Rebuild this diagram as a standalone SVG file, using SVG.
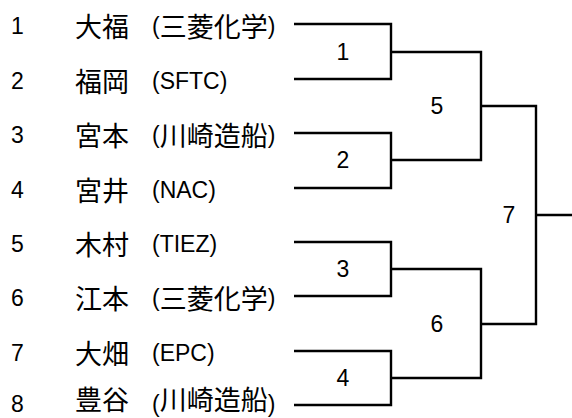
<svg xmlns="http://www.w3.org/2000/svg" width="572" height="418" viewBox="0 0 572 418">
<style>
text{font-family:"Liberation Sans","Noto Sans CJK JP",sans-serif;font-size:23px;fill:#000}
.cjk{font-family:"Noto Sans CJK JP","Liberation Sans",sans-serif;font-size:27px}
.lbl{text-anchor:middle}
.br{fill:none;stroke:#000;stroke-width:2.4}
</style>
<rect width="572" height="418" fill="#fff"/>
<g id="p1"><text x="11" y="34">1</text><text class="cjk" x="75" y="37">大福</text><text x="152" y="34">(<tspan class="cjk" dy="2.5">三菱化学</tspan><tspan dy="-2.5">)</tspan></text></g>
<g id="p2"><text x="11" y="89">2</text><text class="cjk" x="75" y="92">福岡</text><text x="152" y="89">(SFTC)</text></g>
<g id="p3"><text x="11" y="143">3</text><text class="cjk" x="75" y="146">宮本</text><text x="152" y="143">(<tspan class="cjk" dy="2.5">川崎造船</tspan><tspan dy="-2.5">)</tspan></text></g>
<g id="p4"><text x="11" y="198">4</text><text class="cjk" x="75" y="201">宮井</text><text x="152" y="198">(NAC)</text></g>
<g id="p5"><text x="11" y="252">5</text><text class="cjk" x="75" y="255">木村</text><text x="152" y="252">(TIEZ)</text></g>
<g id="p6"><text x="11" y="306">6</text><text class="cjk" x="75" y="309">江本</text><text x="152" y="306">(<tspan class="cjk" dy="2.5">三菱化学</tspan><tspan dy="-2.5">)</tspan></text></g>
<g id="p7"><text x="11" y="361">7</text><text class="cjk" x="75" y="364">大畑</text><text x="152" y="361">(EPC)</text></g>
<g id="p8"><text x="11" y="412">8</text><text class="cjk" x="75" y="410">豊谷</text><text x="152" y="412">(<tspan class="cjk" dy="-2">川崎造船</tspan><tspan dy="2">)</tspan></text></g>
<g id="connectors">
<path class="br" d="M294,24H391V79H294"/>
<path class="br" d="M294,133H391V188H294"/>
<path class="br" d="M294,242H391V296H294"/>
<path class="br" d="M294,351H391V405H294"/>
<path class="br" d="M391,52H481V160H391"/>
<path class="br" d="M391,269H481V378H391"/>
<path class="br" d="M481,106H536V324H481"/>
<path class="br" d="M536,215H572"/>
</g>
<g id="m1"><text class="lbl" x="343" y="60">1</text></g>
<g id="m2"><text class="lbl" x="343" y="168">2</text></g>
<g id="m3"><text class="lbl" x="343" y="277">3</text></g>
<g id="m4"><text class="lbl" x="343" y="386">4</text></g>
<g id="m5"><text class="lbl" x="437" y="114">5</text></g>
<g id="m6"><text class="lbl" x="437" y="332">6</text></g>
<g id="m7"><text class="lbl" x="509" y="223">7</text></g>
</svg>
